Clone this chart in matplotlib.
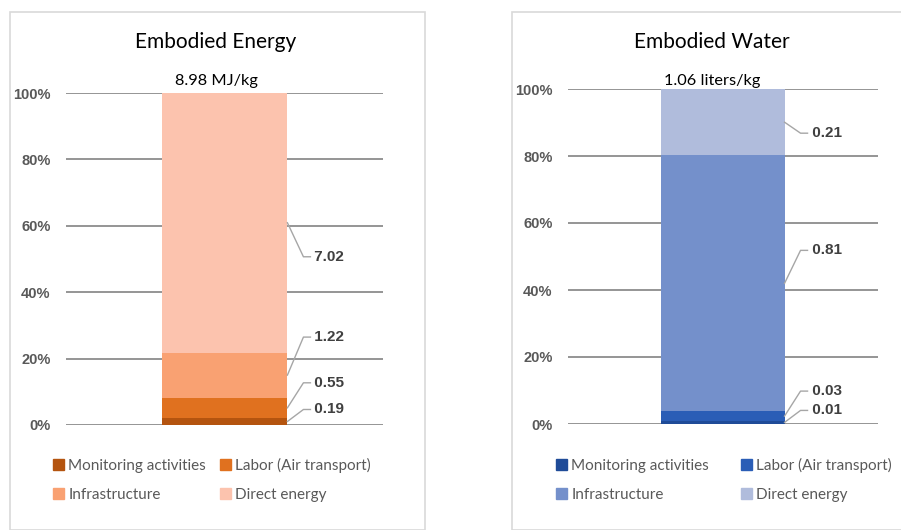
import matplotlib
matplotlib.use("Agg")
import matplotlib.pyplot as plt
from matplotlib.patches import Rectangle, Patch

plt.rcParams['font.family'] = ['Lato', 'DejaVu Sans']

categories = ['Monitoring activities', 'Labor (Air transport)', 'Infrastructure', 'Direct energy']
energy_values = [0.19, 0.55, 1.22, 7.02]
water_values = [0.01, 0.03, 0.81, 0.21]
energy_colors = ['#B4540F', '#E0711F', '#F9A172', '#FCC3AE']
water_colors = ['#1F4B98', '#2A5DB6', '#7490CB', '#B0BCDC']
ticks = [0, 0.2, 0.4, 0.6, 0.8, 1.0]
tick_labels = ['0%', '20%', '40%', '60%', '80%', '100%']

# vertical offset (px) of each data label from the middle of its segment
energy_label_dy = [12, 25, 38, -34]
water_label_dy = [12, 25, 33, -11]

BOLD = ['Liberation Sans', 'DejaVu Sans']

W, H = 901, 530
fig = plt.figure(figsize=(W / 100, H / 100), dpi=100)

# panel borders
fig.patches.append(Rectangle((10 / W, 0), 415 / W, (H - 12) / H, transform=fig.transFigure,
                             fill=False, edgecolor='#d9d9d9', linewidth=1.2))
fig.patches.append(Rectangle((512 / W, 0), 400 / W, (H - 12) / H, transform=fig.transFigure,
                             fill=False, edgecolor='#d9d9d9', linewidth=1.2))


def panel(rect, values, colors, title, subtitle, dys, title_x, legend_x, colspace):
    ax = fig.add_axes(rect)
    total = sum(values)
    shares = [v / total for v in values]
    width = 0.397
    bottom = 0
    mids = []
    for s, c, lab in zip(shares, colors, categories):
        ax.bar(0, s, width=width, bottom=bottom, color=c, label=lab, zorder=3)
        mids.append(bottom + s / 2)
        bottom += s
    ax.set_xlim(-0.5, 0.5)
    ax.set_ylim(0, 1)
    for sp in ax.spines.values():
        sp.set_visible(False)
    ax.set_xticks([])
    ax.set_yticks(ticks)
    ax.set_yticklabels(tick_labels, fontsize=10.5, fontweight='bold', color='#595959',
                       family=BOLD)
    ax.tick_params(axis='y', length=0, pad=11)
    for t in ticks:
        ax.axhline(t, color='#8c8c8c', linewidth=1.3, zorder=1)

    # leader lines + value labels
    edge = width / 2
    for v, m, dy in zip(values, mids, dys):
        x0, y0 = ax.transData.transform((edge, m))
        pts = [(x0, y0), (x0 + 16, y0 + dy), (x0 + 23, y0 + dy)]
        pts = [ax.transData.inverted().transform(p) for p in pts]
        ax.plot([p[0] for p in pts], [p[1] for p in pts], color='#a6a6a6',
                linewidth=1.0, clip_on=False, zorder=4)
        ax.text(pts[2][0], pts[2][1], ' %.2f' % v, ha='left', va='center',
                fontsize=11, fontweight='bold', color='#404040', clip_on=False,
                family=BOLD)

    fig.text(title_x / W, 1 - 42 / H, title, ha='center', va='center', fontsize=15, color='black')
    fig.text(title_x / W, 1 - 81 / H, subtitle, ha='center', va='center', fontsize=11.8, color='black')

    handles = [Patch(color=c, label=l) for c, l in zip(colors, categories)]
    order = [0, 2, 1, 3]
    leg = fig.legend([handles[i] for i in order], [categories[i] for i in order],
                     ncol=2, loc='upper left', bbox_to_anchor=(legend_x / W, 1 - 452 / H),
                     frameon=False, fontsize=11, handlelength=0.7, handleheight=0.7,
                     handletextpad=0.3, columnspacing=colspace, labelspacing=0.95,
                     borderaxespad=0)
    for t in leg.get_texts():
        t.set_color('#595959')
    return ax


panel([66 / W, 105 / H, 317 / W, 332 / H], energy_values, energy_colors,
      'Embodied Energy', '8.98 MJ/kg', energy_label_dy, 216, 47, 0.9)
panel([568 / W, 106 / H, 310 / W, 335 / H], water_values, water_colors,
      'Embodied Water', '1.06 liters/kg', water_label_dy, 712, 550, 2.1)

fig.savefig('out.png', dpi=100)
